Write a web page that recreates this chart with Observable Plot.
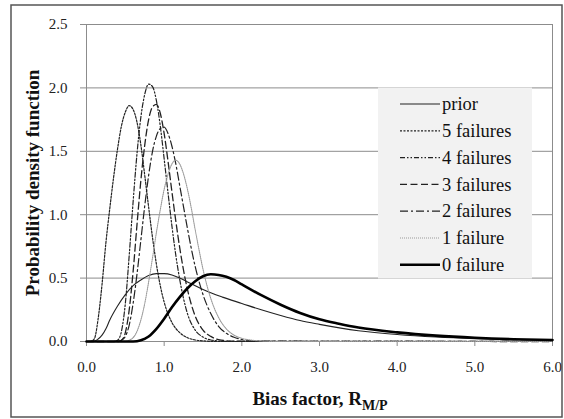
<!DOCTYPE html>
<html><head><meta charset="utf-8">
<script src="https://cdn.jsdelivr.net/npm/d3@7"></script>
<script src="https://cdn.jsdelivr.net/npm/@observablehq/plot@0.6"></script>
<style>
html,body{margin:0;padding:0;background:#fff;}
#chart{width:564px;height:419px;}
#chart svg text{font-family:"Liberation Serif","Times New Roman",serif;}
</style></head><body><div id="chart"></div>
<script>
// ---- data ----
const xTicks = [0, 1, 2, 3, 4, 5, 6];
const yTicks = [0, 0.5, 1, 1.5, 2, 2.5];
const seriesNames = ["prior", "5 failures", "4 failures", "3 failures", "2 failures", "1 failure", "0 failure"];

const priorX = [0, 0.1, 0.15, 0.2, 0.25, 0.3, 0.4, 0.5, 0.6, 0.7, 0.8, 0.9, 1.0, 1.1, 1.2, 1.3, 1.4, 1.5, 1.75, 2.0, 2.25, 2.5, 2.75, 3.0, 3.5, 4.0, 4.5, 5.0, 5.5, 6.0];
const priorY = [0, 0.003, 0.02, 0.05, 0.1, 0.17, 0.28, 0.37, 0.44, 0.485, 0.52, 0.535, 0.535, 0.525, 0.5, 0.47, 0.44, 0.41, 0.35, 0.30, 0.25, 0.205, 0.165, 0.135, 0.085, 0.055, 0.035, 0.022, 0.014, 0.009];

const fail5X = [0, 0.05, 0.1, 0.15, 0.2, 0.25, 0.3, 0.35, 0.4, 0.45, 0.5, 0.55, 0.6, 0.65, 0.7, 0.75, 0.8, 0.85, 0.9, 0.95, 1.0, 1.1, 1.2, 1.3, 1.4, 1.5, 1.7, 6];
const fail5Y = [0, 0, 0.02, 0.18, 0.45, 0.78, 1.05, 1.30, 1.52, 1.70, 1.81, 1.86, 1.83, 1.73, 1.55, 1.31, 1.06, 0.82, 0.61, 0.44, 0.31, 0.15, 0.07, 0.03, 0.012, 0.005, 0, 0];

const fail4X = [0, 0.35, 0.4, 0.45, 0.5, 0.55, 0.6, 0.65, 0.7, 0.75, 0.8, 0.85, 0.9, 0.95, 1.0, 1.05, 1.1, 1.15, 1.2, 1.3, 1.4, 1.5, 1.6, 1.8, 6];
const fail4Y = [0, 0, 0.01, 0.08, 0.30, 0.68, 1.10, 1.48, 1.77, 1.95, 2.03, 2.01, 1.90, 1.70, 1.44, 1.17, 0.91, 0.68, 0.49, 0.22, 0.09, 0.035, 0.012, 0.001, 0];

const fail3X = [0, 0.4, 0.45, 0.5, 0.55, 0.6, 0.65, 0.7, 0.75, 0.8, 0.85, 0.9, 0.95, 1.0, 1.05, 1.1, 1.15, 1.2, 1.25, 1.3, 1.4, 1.5, 1.6, 1.7, 1.9, 6];
const fail3Y = [0, 0, 0.01, 0.07, 0.25, 0.55, 0.92, 1.27, 1.55, 1.75, 1.85, 1.87, 1.80, 1.64, 1.42, 1.18, 0.95, 0.74, 0.56, 0.41, 0.20, 0.09, 0.04, 0.015, 0.002, 0];

const fail2X = [0, 0.4, 0.45, 0.5, 0.55, 0.6, 0.65, 0.7, 0.75, 0.8, 0.85, 0.9, 0.95, 1.0, 1.05, 1.1, 1.15, 1.2, 1.25, 1.3, 1.4, 1.5, 1.6, 1.7, 1.8, 1.9, 2.0, 2.2, 6];
const fail2Y = [0, 0, 0.01, 0.04, 0.13, 0.30, 0.53, 0.80, 1.07, 1.31, 1.50, 1.62, 1.68, 1.69, 1.64, 1.54, 1.40, 1.23, 1.06, 0.89, 0.59, 0.37, 0.22, 0.12, 0.065, 0.033, 0.016, 0.003, 0];

const fail1X = [0, 0.5, 0.55, 0.6, 0.65, 0.7, 0.75, 0.8, 0.85, 0.9, 0.95, 1.0, 1.05, 1.1, 1.15, 1.2, 1.25, 1.3, 1.35, 1.4, 1.45, 1.5, 1.6, 1.7, 1.8, 1.9, 2.0, 2.2, 2.4, 6];
const fail1Y = [0, 0, 0.01, 0.03, 0.08, 0.17, 0.30, 0.47, 0.66, 0.86, 1.04, 1.20, 1.32, 1.40, 1.43, 1.40, 1.32, 1.20, 1.05, 0.88, 0.72, 0.57, 0.34, 0.19, 0.10, 0.05, 0.025, 0.006, 0.001, 0];

const fail0X = [0, 0.6, 0.7, 0.8, 0.9, 1.0, 1.1, 1.2, 1.3, 1.4, 1.5, 1.6, 1.7, 1.8, 1.9, 2.0, 2.25, 2.5, 2.75, 3.0, 3.25, 3.5, 4.0, 4.5, 5.0, 5.5, 6.0];
const fail0Y = [0, 0, 0.01, 0.04, 0.10, 0.18, 0.27, 0.35, 0.42, 0.475, 0.515, 0.53, 0.525, 0.51, 0.485, 0.45, 0.365, 0.29, 0.225, 0.175, 0.14, 0.11, 0.072, 0.046, 0.029, 0.018, 0.012];

// ---- styles ----
const lineStyles = {
  "prior":      {stroke: "#222", strokeWidth: 1.1, dash: null},
  "5 failures": {stroke: "#222", strokeWidth: 1.2, dash: "2,1.5"},
  "4 failures": {stroke: "#222", strokeWidth: 1.2, dash: "5,2,1.5,2,1.5,2"},
  "3 failures": {stroke: "#222", strokeWidth: 1.3, dash: "7,3.5"},
  "2 failures": {stroke: "#222", strokeWidth: 1.2, dash: "8,3,2,3"},
  "1 failure":  {stroke: "#999", strokeWidth: 1.1, dash: "1,1"},
  "0 failure":  {stroke: "#000", strokeWidth: 2.6, dash: null}
};

const seriesData = {
  "prior": [priorX, priorY],
  "5 failures": [fail5X, fail5Y],
  "4 failures": [fail4X, fail4Y],
  "3 failures": [fail3X, fail3Y],
  "2 failures": [fail2X, fail2Y],
  "1 failure": [fail1X, fail1Y],
  "0 failure": [fail0X, fail0Y]
};

const gridColor = "#8c8c8c";
const fmt = d3.format(".1f");
const font = "'Liberation Serif', 'Times New Roman', serif";

const lineMarks = seriesNames.map(name => {
  const [xs, ys] = seriesData[name];
  const rows = xs.map((x, i) => ({x, y: ys[i]}));
  const s = lineStyles[name];
  return Plot.line(rows, {x: "x", y: "y", curve: "monotone-x", stroke: s.stroke, strokeWidth: s.strokeWidth, strokeDasharray: s.dash || undefined, strokeLinejoin: "round"});
});

const chart = Plot.plot({
  width: 564, height: 419,
  marginLeft: 86, marginRight: 12, marginTop: 24, marginBottom: 78,
  x: {domain: [0, 6]},
  y: {domain: [0, 2.5]},
  style: {fontFamily: font, fontSize: "15px", background: "#fff", color: "#222"},
  marks: [
    Plot.gridY(yTicks.slice(1), {stroke: gridColor, strokeOpacity: 1, strokeWidth: 1}),
    Plot.ruleX([6], {stroke: gridColor}),
    Plot.ruleX([0], {stroke: gridColor}),
    Plot.ruleY([0], {stroke: gridColor}),
    Plot.axisY({ticks: yTicks, tickSize: 6, tickPadding: 13, tickFormat: fmt, stroke: gridColor, fill: "#222", fontSize: 15, label: null}),
    Plot.axisX({ticks: xTicks, tickSize: 5, tickPadding: 15, tickFormat: fmt, stroke: gridColor, fill: "#222", fontSize: 15, label: null}),
    ...lineMarks
  ]
});

document.getElementById("chart").appendChild(chart);

const svg = d3.select(chart);

// outer border
svg.append("rect").attr("x", 11).attr("y", 5).attr("width", 551).attr("height", 412)
  .attr("fill", "none").attr("stroke", "#555").attr("stroke-width", 1.5);

// y axis title
svg.append("text")
  .attr("transform", "translate(39,183) rotate(-90)")
  .style("text-anchor", "middle")
  .style("font-family", font).style("font-weight", "bold").style("font-size", "19px").style("fill", "#111")
  .text("Probability density function");

// x axis title with subscript
const xt = svg.append("text")
  .attr("x", 320).attr("y", 405)
  .style("text-anchor", "middle")
  .style("font-family", font).style("font-weight", "bold").style("font-size", "19px").style("fill", "#111");
xt.append("tspan").text("Bias factor, R");
xt.append("tspan").style("font-size", "14px").attr("dy", 5).text("M/P");

// legend
const lg = svg.append("g");
lg.append("rect").attr("x", 378).attr("y", 87.5).attr("width", 154).attr("height", 191)
  .attr("fill", "#f2f2f2");
seriesNames.forEach((name, i) => {
  const cy = 104 + i * 26.8;
  const s = lineStyles[name];
  lg.append("line").attr("x1", 400).attr("x2", 440).attr("y1", cy).attr("y2", cy)
    .attr("stroke", s.stroke).attr("stroke-width", s.strokeWidth)
    .attr("stroke-dasharray", s.dash);
  lg.append("text").attr("x", 442).attr("y", cy).attr("dy", "0.34em")
    .style("text-anchor", "start")
    .style("font-family", font).style("font-size", "18.5px").style("fill", "#111")
    .text(name);
});
</script>
</body></html>
